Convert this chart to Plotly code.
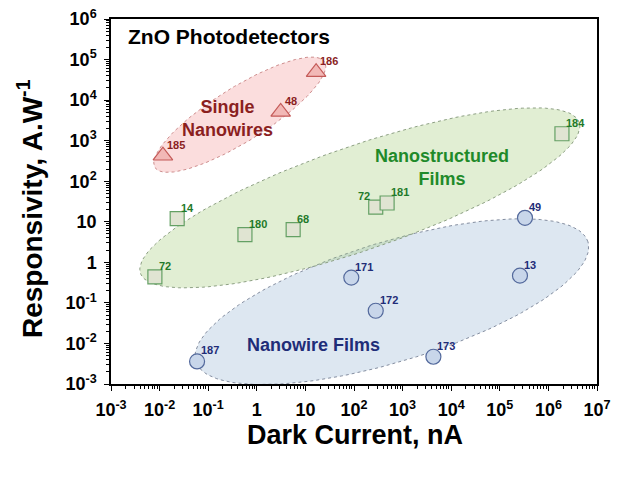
import numpy as np
import plotly.graph_objects as go

# ---------------- data ----------------
sn_x = [0.0117, 3.1, 16.6]
sn_y = [425, 5100, 49000]
sn_lab = ["185", "48", "186"]

nf_x = [0.008, 0.023, 0.57, 5.6, 280, 480, 1.9e6]
nf_y = [0.44, 11.9, 4.8, 6.4, 23, 29, 1480]
nf_lab = ["72", "14", "180", "68", "72", "181", "184"]

nw_x = [0.059, 88, 280, 4300, 2.6e5, 3.3e5]
nw_y = [0.0036, 0.42, 0.064, 0.0047, 0.47, 12.5]
nw_lab = ["187", "171", "172", "173", "13", "49"]

tick_exp = list(range(-3, 8))
x_ticktext = ["10<sup>-3</sup>", "10<sup>-2</sup>", "10<sup>-1</sup>", "1", "10",
              "10<sup>2</sup>", "10<sup>3</sup>", "10<sup>4</sup>", "10<sup>5</sup>",
              "10<sup>6</sup>", "10<sup>7</sup>"]
y_exp = list(range(-3, 7))
y_ticktext = ["10<sup>-3</sup>", "10<sup>-2</sup>", "10<sup>-1</sup>", "1", "10",
              "10<sup>2</sup>", "10<sup>3</sup>", "10<sup>4</sup>", "10<sup>5</sup>",
              "10<sup>6</sup>"]

# group regions (log10 centre, semi-axes in px, angle in degrees)
PXX, PXY = 48.6, 40.6
regions = [
    dict(c=(2.78, -0.97), a=205, b=60, ang=17, fill="rgba(130,165,205,0.27)", line="rgba(120,130,150,0.9)"),
    dict(c=(2.12, 1.59), a=232, b=52, ang=19, fill="rgba(155,200,110,0.30)", line="rgba(130,150,120,0.9)"),
    dict(c=(-0.35, 3.64), a=100, b=27, ang=32, fill="rgba(240,120,120,0.25)", line="rgba(200,130,130,0.9)"),
]

FONT = "Liberation Sans, Arial, sans-serif"

fig = go.Figure()

t = np.linspace(0, 2 * np.pi, 181)
for r in regions:
    th = np.radians(r["ang"])
    dx = r["a"] * np.cos(t) * np.cos(th) - r["b"] * np.sin(t) * np.sin(th)
    dy = r["a"] * np.cos(t) * np.sin(th) + r["b"] * np.sin(t) * np.cos(th)
    ex = 10 ** (r["c"][0] + dx / PXX)
    ey = 10 ** (r["c"][1] + dy / PXY)
    fig.add_trace(go.Scatter(x=ex, y=ey, mode="lines", fill="toself",
                             fillcolor=r["fill"],
                             line=dict(color=r["line"], width=1, dash="dot"),
                             hoverinfo="skip", showlegend=False))

fig.add_trace(go.Scatter(x=nw_x, y=nw_y, mode="markers", showlegend=False,
                         marker=dict(symbol="circle", size=15, color="#c8d6ea",
                                     line=dict(color="#53699c", width=1.2))))
fig.add_trace(go.Scatter(x=nf_x, y=nf_y, mode="markers", showlegend=False,
                         marker=dict(symbol="square", size=14, color="#e0e4d2",
                                     line=dict(color="#64a064", width=1.2))))
fig.add_trace(go.Scatter(x=sn_x, y=sn_y, mode="markers", showlegend=False,
                         marker=dict(symbol="triangle-up", size=17, color="#f2b8b6",
                                     line=dict(color="#c45a58", width=1.2))))

def add_labels(xs, ys, labs, color, special=None):
    for i, (x, y, l) in enumerate(zip(xs, ys, labs)):
        anchor, xs_ = "left", 2
        if special is not None and i in special:
            anchor, xs_ = "right", -4
        fig.add_annotation(x=np.log10(x), y=np.log10(y), text=l, showarrow=False,
                           xanchor=anchor, yanchor="bottom", xshift=xs_, yshift=3,
                           font=dict(family=FONT, size=11, color=color, weight="bold"))

add_labels(sn_x, sn_y, sn_lab, "#8b1f1f")
add_labels(nf_x, nf_y, nf_lab, "#1f7a2a", special={4})
add_labels(nw_x, nw_y, nw_lab, "#1f2d78")

fig.add_annotation(xref="paper", yref="paper", x=0.031, y=0.951, xanchor="left", yanchor="middle",
                   text="ZnO Photodetectors", showarrow=False,
                   font=dict(family=FONT, size=21, color="black", weight="bold"))
fig.add_annotation(xref="x", yref="y", x=-0.61, y=3.54, text="Single<br>Nanowires", showarrow=False,
                   font=dict(family=FONT, size=18, color="#8b1f1f", weight="bold"))
fig.add_annotation(xref="x", yref="y", x=3.81, y=2.35, text="Nanostructured<br>Films", showarrow=False,
                   font=dict(family=FONT, size=18, color="#1f8a2a", weight="bold"))
fig.add_annotation(xref="x", yref="y", x=1.16, y=-2.03, text="Nanowire Films", showarrow=False,
                   font=dict(family=FONT, size=18, color="#1f2d78", weight="bold"))

# axis titles
fig.add_annotation(xref="paper", yref="paper", x=0.502, y=-0.14, xanchor="center", yanchor="middle",
                   text="Dark Current, nA", showarrow=False,
                   font=dict(family=FONT, size=27, color="black", weight="bold"))
fig.add_annotation(xref="paper", yref="paper", x=-0.1667, y=0.482, xanchor="center", yanchor="middle",
                   text="Responsivity, A.W<sup>-1</sup>", showarrow=False, textangle=-90,
                   font=dict(family=FONT, size=28, color="black", weight="bold"))

axis_common = dict(showgrid=False, zeroline=False, showline=True, linecolor="black",
                   linewidth=1.5, mirror=True, ticks="outside", ticklen=5, tickwidth=1.2,
                   tickcolor="black", automargin=False, ticklabelstandoff=4,
                   tickfont=dict(family=FONT, size=18, color="black", weight="bold"))

fig.update_xaxes(type="log", range=[-3, 7], tickmode="array",
                 tickvals=[10.0 ** e for e in tick_exp], ticktext=x_ticktext,
                 minor=dict(ticks="outside", ticklen=3, tickcolor="black", tickmode="array",
                            tickvals=[k * 10.0 ** e for e in range(-3, 7) for k in range(2, 10)],
                            showgrid=False),
                 **axis_common)
fig.update_yaxes(type="log", range=[-3, 6], tickmode="array",
                 tickvals=[10.0 ** e for e in y_exp], ticktext=y_ticktext,
                 minor=dict(ticks="outside", ticklen=3, tickcolor="black", tickmode="array",
                            tickvals=[k * 10.0 ** e for e in range(-3, 6) for k in range(2, 10)],
                            showgrid=False),
                 **axis_common)

fig.update_layout(width=638, height=477, margin=dict(l=111, r=41, t=19, b=93),
                  plot_bgcolor="white", paper_bgcolor="white", showlegend=False)

fig.write_html("out.html", config={"displayModeBar": False},
               post_script="document.body.style.margin='0';document.body.style.overflow='hidden';")
